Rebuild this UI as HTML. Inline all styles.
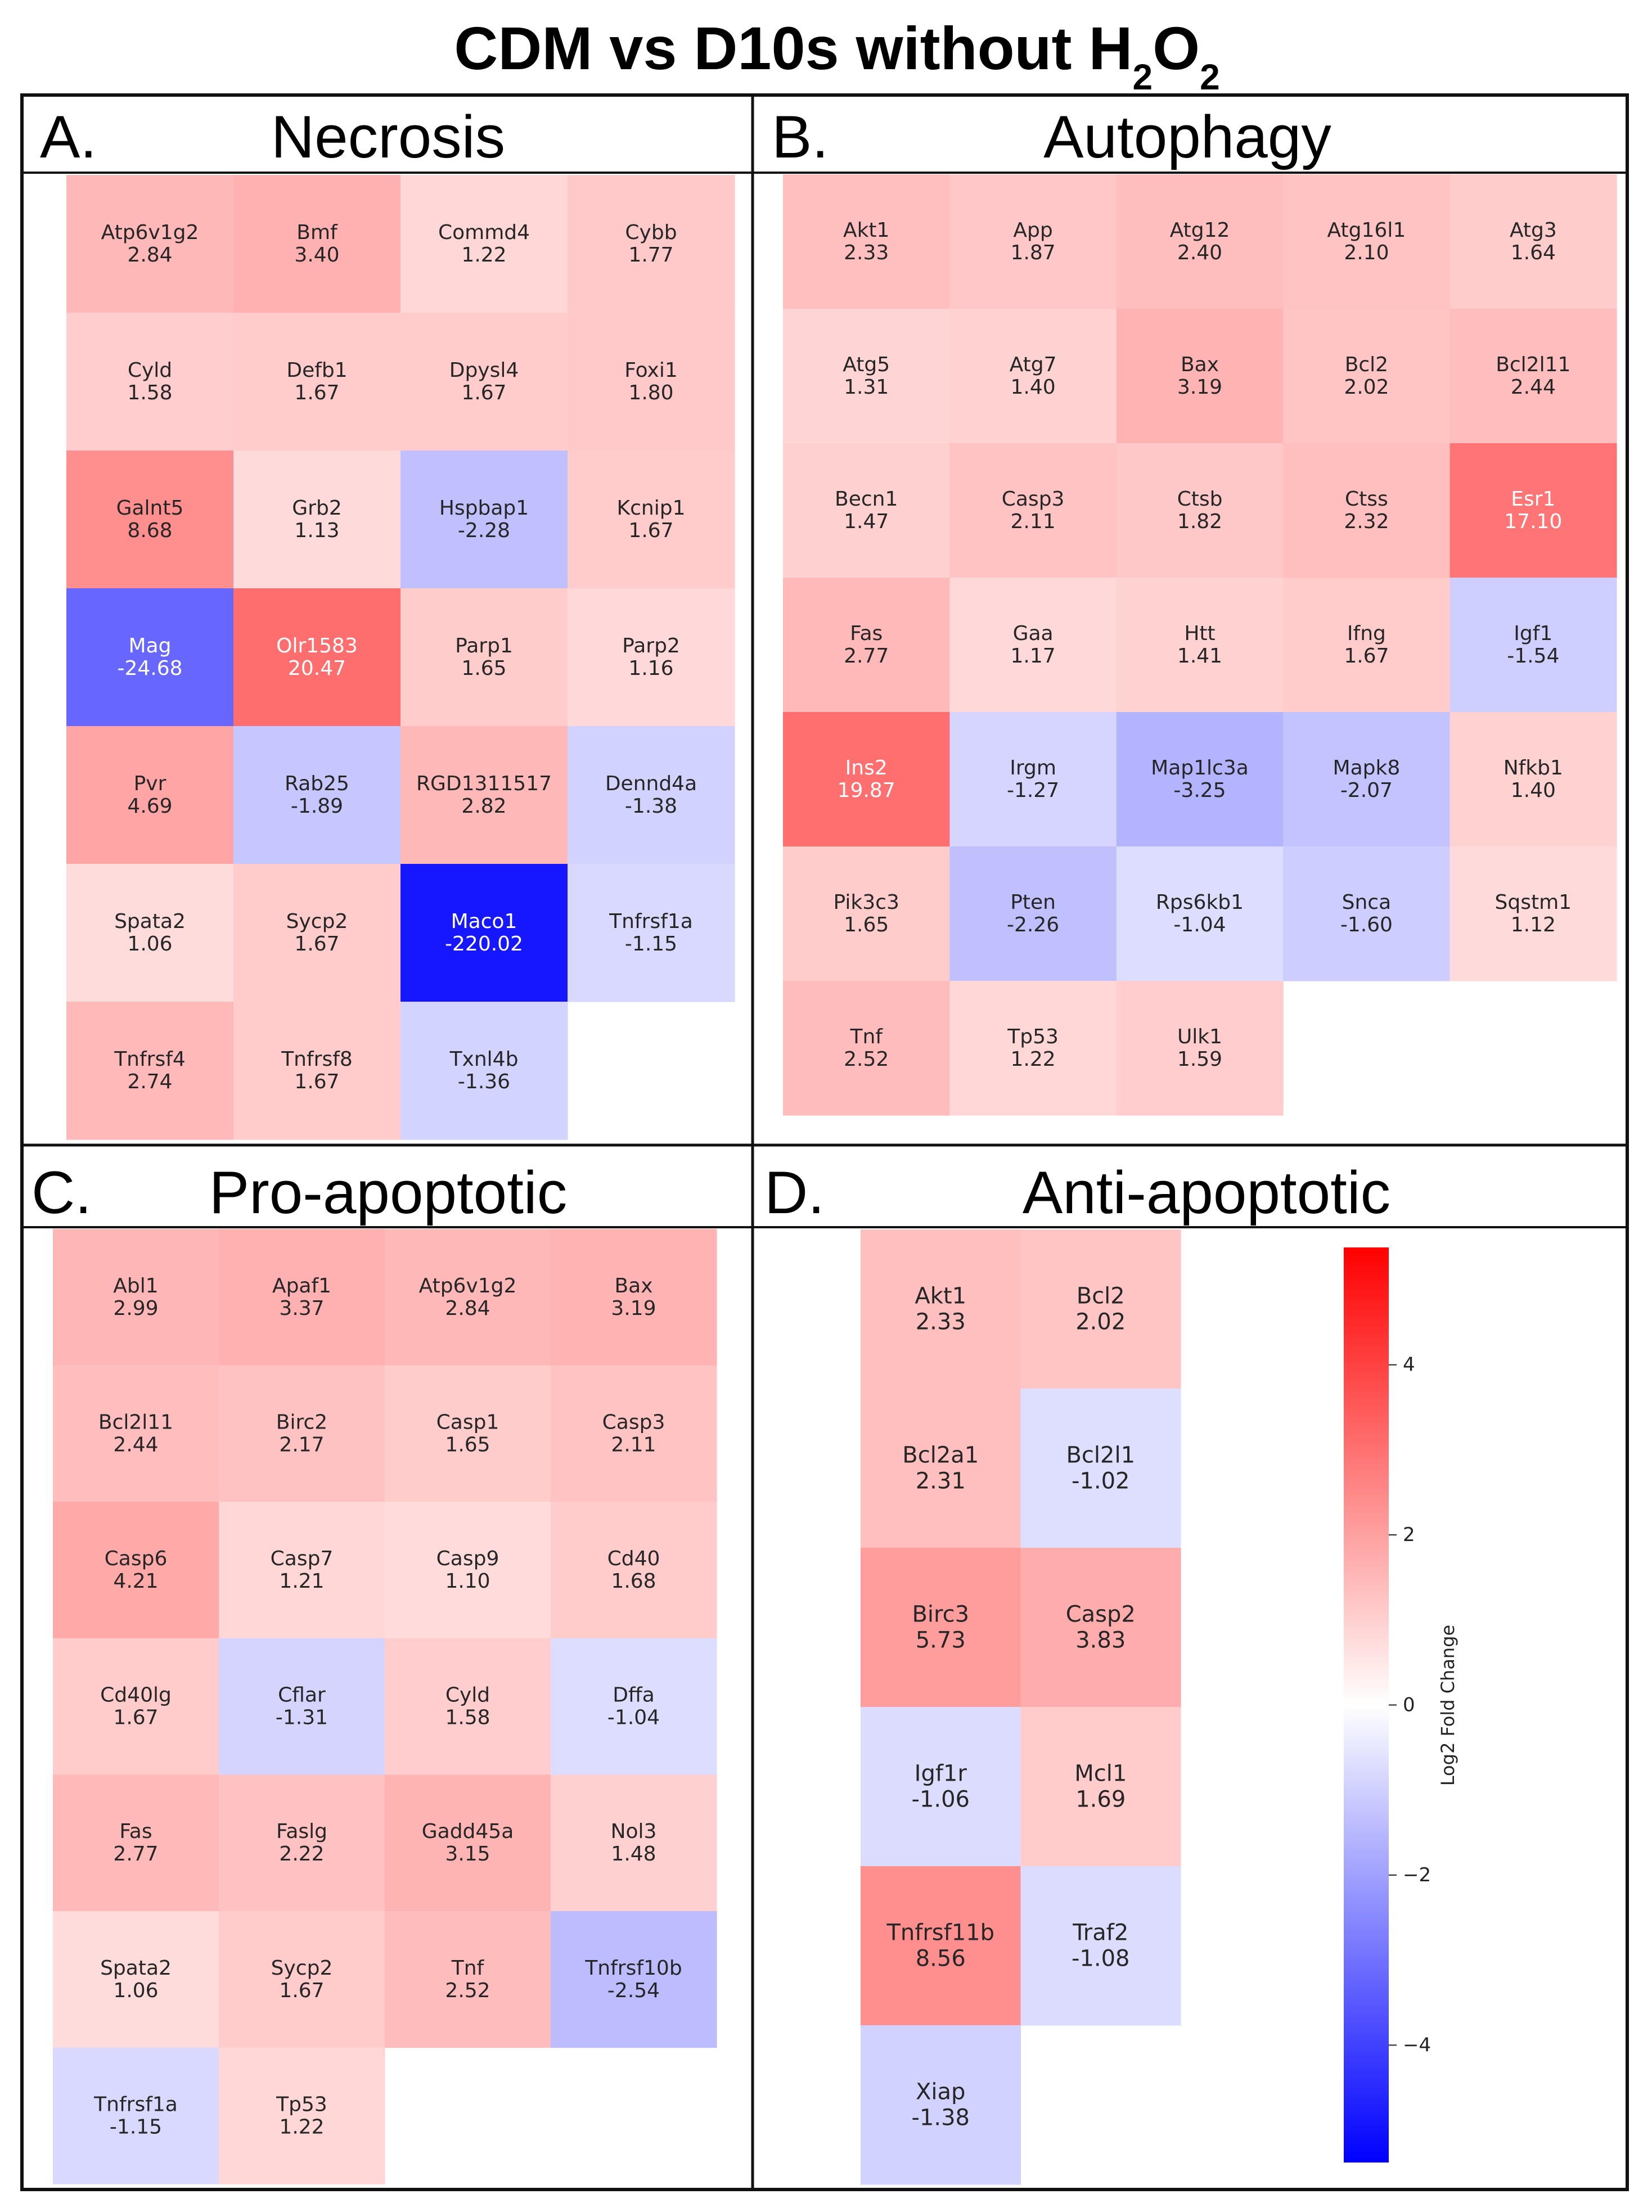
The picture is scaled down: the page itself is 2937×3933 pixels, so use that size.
<!DOCTYPE html>
<html><head><meta charset="utf-8">
<style>
html,body{margin:0;padding:0;background:#fff;}
svg{display:block;}
</style></head>
<body>
<svg id="fig" xmlns="http://www.w3.org/2000/svg" width="2937" height="3933" viewBox="0 0 2937 3933">
  <rect x="0" y="0" width="2937" height="3933" fill="#fff"/>
  <text x="1488" y="123" text-anchor="middle" font-family="Liberation Sans, sans-serif" font-weight="bold" font-size="108" fill="#000">CDM vs D10s without H<tspan font-size="64" dy="36">2</tspan><tspan dy="-36">O</tspan><tspan font-size="64" dy="36">2</tspan></text>
  <g id="cells"></g>
  <g stroke="#111" fill="none">
    <rect x="39" y="169" width="2854" height="3724" stroke-width="6"/>
    <line x1="1338" y1="169" x2="1338" y2="3893" stroke-width="5"/>
    <line x1="39" y1="2036" x2="2893" y2="2036" stroke-width="5"/>
    <line x1="39" y1="307" x2="2893" y2="307" stroke-width="4"/>
    <line x1="39" y1="2182" x2="2893" y2="2182" stroke-width="4"/>
  </g>
  <g font-family="Liberation Sans, sans-serif" font-size="107" fill="#000">
    <text x="71" y="280">A.</text>
    <text x="690" y="280" text-anchor="middle">Necrosis</text>
    <text x="1372" y="280">B.</text>
    <text x="2111" y="280" text-anchor="middle">Autophagy</text>
    <text x="56" y="2157">C.</text>
    <text x="690" y="2157" text-anchor="middle">Pro-apoptotic</text>
    <text x="1359" y="2157">D.</text>
    <text x="2145" y="2157" text-anchor="middle">Anti-apoptotic</text>
  </g>
  <defs>
    <linearGradient id="bwr" x1="0" y1="0" x2="0" y2="1">
      <stop offset="0" stop-color="#ff0000"/>
      <stop offset="0.5" stop-color="#ffffff"/>
      <stop offset="1" stop-color="#0000ff"/>
    </linearGradient>
  </defs>
  <g id="cbar">
    <rect x="2389" y="2218" width="80" height="1627" fill="url(#bwr)"/>
    <text transform="translate(2585,3032) rotate(-90)" text-anchor="middle" font-family="DejaVu Sans, sans-serif" font-size="32" fill="#222">Log2 Fold Change</text>
  </g>
</svg>
<script>
// Panel data (fold change values as printed)
const necrosisGenes = ["Atp6v1g2","Bmf","Commd4","Cybb","Cyld","Defb1","Dpysl4","Foxi1","Galnt5","Grb2","Hspbap1","Kcnip1","Mag","Olr1583","Parp1","Parp2","Pvr","Rab25","RGD1311517","Dennd4a","Spata2","Sycp2","Maco1","Tnfrsf1a","Tnfrsf4","Tnfrsf8","Txnl4b"];
const necrosisValues = [2.84,3.40,1.22,1.77,1.58,1.67,1.67,1.80,8.68,1.13,-2.28,1.67,-24.68,20.47,1.65,1.16,4.69,-1.89,2.82,-1.38,1.06,1.67,-220.02,-1.15,2.74,1.67,-1.36];
const autophagyGenes = ["Akt1","App","Atg12","Atg16l1","Atg3","Atg5","Atg7","Bax","Bcl2","Bcl2l11","Becn1","Casp3","Ctsb","Ctss","Esr1","Fas","Gaa","Htt","Ifng","Igf1","Ins2","Irgm","Map1lc3a","Mapk8","Nfkb1","Pik3c3","Pten","Rps6kb1","Snca","Sqstm1","Tnf","Tp53","Ulk1"];
const autophagyValues = [2.33,1.87,2.40,2.10,1.64,1.31,1.40,3.19,2.02,2.44,1.47,2.11,1.82,2.32,17.10,2.77,1.17,1.41,1.67,-1.54,19.87,-1.27,-3.25,-2.07,1.40,1.65,-2.26,-1.04,-1.60,1.12,2.52,1.22,1.59];
const proGenes = ["Abl1","Apaf1","Atp6v1g2","Bax","Bcl2l11","Birc2","Casp1","Casp3","Casp6","Casp7","Casp9","Cd40","Cd40lg","Cflar","Cyld","Dffa","Fas","Faslg","Gadd45a","Nol3","Spata2","Sycp2","Tnf","Tnfrsf10b","Tnfrsf1a","Tp53"];
const proValues = [2.99,3.37,2.84,3.19,2.44,2.17,1.65,2.11,4.21,1.21,1.10,1.68,1.67,-1.31,1.58,-1.04,2.77,2.22,3.15,1.48,1.06,1.67,2.52,-2.54,-1.15,1.22];
const antiGenes = ["Akt1","Bcl2","Bcl2a1","Bcl2l1","Birc3","Casp2","Igf1r","Mcl1","Tnfrsf11b","Traf2","Xiap"];
const antiValues = [2.33,2.02,2.31,-1.02,5.73,3.83,-1.06,1.69,8.56,-1.08,-1.38];
const cbarTicks = [4,2,0,-2,-4];
const cbarMax = 5.38;

const NS = "http://www.w3.org/2000/svg";
const cellsG = document.getElementById("cells");
function colorFor(v){
  const a = Math.abs(v);
  let t = 0.128 + 0.101*Math.log2(a);
  t = Math.max(0, Math.min(1, t));
  const c = Math.round(255*(1-t));
  return {fill: v >= 0 ? `rgb(255,${c},${c})` : `rgb(${c},${c},255)`, t: t};
}
function drawPanel(key, genes, values, x0, y0, cw, rh, cols, fs, gap){
  const xScale = i => x0 + (i % cols)*cw;
  const yScale = i => y0 + Math.floor(i/cols)*rh;
  genes.forEach((g,i)=>{
    const v = values[i];
    const col = colorFor(v);
    const r = document.createElementNS(NS,"rect");
    r.setAttribute("x", xScale(i)); r.setAttribute("y", yScale(i));
    r.setAttribute("width", cw+0.6); r.setAttribute("height", rh+0.6);
    r.setAttribute("fill", col.fill);
    
    
    cellsG.appendChild(r);
    const cx = xScale(i)+cw/2, cy = yScale(i)+rh/2;
    const tc = col.t > 0.5 ? "#fff" : "#262626";
    [[g, cy-gap/2],[v.toFixed(2), cy+gap/2]].forEach(([s,y])=>{
      const t = document.createElementNS(NS,"text");
      t.setAttribute("x", cx); t.setAttribute("y", y);
      t.setAttribute("text-anchor","middle");
      t.setAttribute("dominant-baseline","central");
      t.setAttribute("font-family","DejaVu Sans, sans-serif");
      t.setAttribute("font-size", fs);
      t.setAttribute("fill", tc);
      t.textContent = s;
      
      
      cellsG.appendChild(t);
    });
  });
}
drawPanel("a", necrosisGenes, necrosisValues, 118, 311, 297, 245, 4, 36, 40);
drawPanel("b", autophagyGenes, autophagyValues, 1392, 310, 296.4, 239, 5, 36, 40);
drawPanel("c", proGenes, proValues, 94, 2185, 295, 242.6, 4, 36, 40);
drawPanel("d", antiGenes, antiValues, 1530, 2186, 284.5, 283, 2, 40, 46);

// colorbar ticks
const cb = document.getElementById("cbar");
const cbTop = 2218, cbH = 1627;
const yCb = v => cbTop + (cbarMax - v)/(2*cbarMax)*cbH;
cbarTicks.forEach(v=>{
  const y = yCb(v);
  const l = document.createElementNS(NS,"line");
  l.setAttribute("x1",2469); l.setAttribute("x2",2483);
  l.setAttribute("y1",y); l.setAttribute("y2",y);
  l.setAttribute("stroke","#222"); l.setAttribute("stroke-width","2");
  
  
  cb.appendChild(l);
  const t = document.createElementNS(NS,"text");
  t.setAttribute("x",2494); t.setAttribute("y",y);
  t.setAttribute("dominant-baseline","central");
  t.setAttribute("font-family","DejaVu Sans, sans-serif");
  t.setAttribute("font-size","34");
  t.setAttribute("fill","#222");
  t.textContent = v < 0 ? "\u2212" + Math.abs(v) : String(v);
  
  
  cb.appendChild(t);
});
</script>
</body></html>
